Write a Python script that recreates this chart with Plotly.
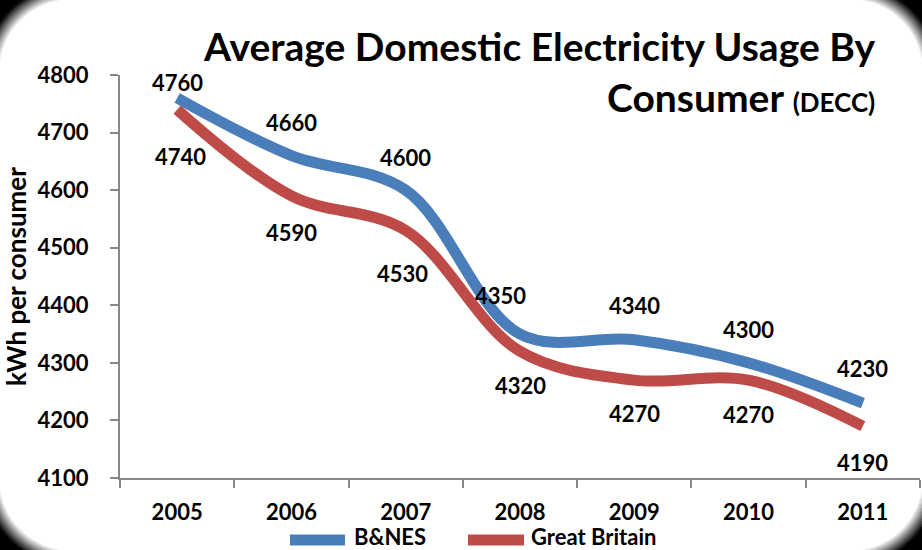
import plotly.graph_objects as go

years = ["2005", "2006", "2007", "2008", "2009", "2010", "2011"]
bnes = [4760, 4660, 4600, 4350, 4340, 4300, 4230]
gb = [4740, 4590, 4530, 4320, 4270, 4270, 4190]
y_ticks = [4100, 4200, 4300, 4400, 4500, 4600, 4700, 4800]
series_names = ["B&NES", "Great Britain"]

# label offsets (pixels): style only
bnes_shift = [(0, 16), (0, 33), (0, 33), (-20, 39), (0, 34), (0, 33), (0, 35)]
gb_shift = [(3, -47), (0, -37), (-3, -43), (0, -34), (0, -33), (0, -34), (0, -36)]

W, H = 922, 550
ML, MR, MT, MB = 120, 2, 75, 72
PW, PH = W - ML - MR, H - MT - MB

BLUE = "#4A7EBB"
RED = "#BE4B48"
FONT = "Lato"

def px2paper(xp, yp):
    return (xp - ML) / PW, (H - MB - yp) / PH

xi = list(range(len(years)))

fig = go.Figure()
fig.add_trace(go.Scatter(x=xi, y=bnes, mode="lines", name=series_names[0],
                         line=dict(color=BLUE, width=11, shape="spline", smoothing=1.0)))
fig.add_trace(go.Scatter(x=xi, y=gb, mode="lines", name=series_names[1],
                         line=dict(color=RED, width=11, shape="spline", smoothing=1.0)))

lab_font = dict(family=FONT, size=22, color="black", weight="bold")
ann = []
for i in xi:
    ann.append(dict(x=i, y=bnes[i], text=str(bnes[i]), showarrow=False,
                    xshift=bnes_shift[i][0], yshift=bnes_shift[i][1], font=lab_font))
    ann.append(dict(x=i, y=gb[i], text=str(gb[i]), showarrow=False,
                    xshift=gb_shift[i][0], yshift=gb_shift[i][1], font=lab_font))

ann.append(dict(xref="paper", yref="paper", x=px2paper(877, 0)[0], y=px2paper(0, 46)[1],
                xanchor="right", yanchor="middle", showarrow=False,
                text="Average Domestic Electricity Usage By",
                font=dict(family=FONT, size=39, color="black", weight="bold")))
ann.append(dict(xref="paper", yref="paper", x=px2paper(877, 0)[0], y=px2paper(0, 97)[1],
                xanchor="right", yanchor="middle", showarrow=False,
                text="Consumer <span style='font-size:26px'>(DECC)</span>",
                font=dict(family=FONT, size=39, color="black", weight="bold")))

# custom legend
leg = [(290, 345, 352, BLUE, series_names[0]), (468, 524, 529, RED, series_names[1])]
shapes = []

def rrect(x0, y0, x1, y1, r):
    k = 0.5523 * r
    def P(x, y):
        a, b = px2paper(x, y)
        return f"{a:.5f},{b:.5f}"
    d = f"M{P(x0 + r, y0)} L{P(x1 - r, y0)} "
    d += f"C{P(x1 - r + k, y0)} {P(x1, y0 + r - k)} {P(x1, y0 + r)} "
    d += f"L{P(x1, y1 - r)} "
    d += f"C{P(x1, y1 - r + k)} {P(x1 - r + k, y1)} {P(x1 - r, y1)} "
    d += f"L{P(x0 + r, y1)} "
    d += f"C{P(x0 + r - k, y1)} {P(x0, y1 - r + k)} {P(x0, y1 - r)} "
    d += f"L{P(x0, y0 + r)} "
    d += f"C{P(x0, y0 + r - k)} {P(x0 + r - k, y0)} {P(x0 + r, y0)} Z"
    return d

steps = 11
c = 72
for s in range(steps):
    t = s / (steps - 1)
    g = int(10 + 245 * t)
    d = -16 + s * 1.5
    r = c - d
    shapes.append(dict(type="path", xref="paper", yref="paper", layer="below",
                       path=rrect(d, d, W - d, H - d, r),
                       fillcolor=f"rgb({g},{g},{g})", line=dict(width=0)))

for x0, x1, tx, col, name in leg:
    a0, yy = px2paper(x0, 540)
    a1, _ = px2paper(x1, 540)
    shapes.append(dict(type="line", xref="paper", yref="paper", x0=a0, x1=a1, y0=yy, y1=yy,
                       line=dict(color=col, width=11)))
    ann.append(dict(xref="paper", yref="paper", x=px2paper(tx, 0)[0], y=px2paper(0, 536)[1],
                    xanchor="left", yanchor="middle", showarrow=False, text=name,
                    font=lab_font))

fig.update_layout(
    width=W, height=H,
    margin=dict(l=ML, r=MR, t=MT, b=MB, autoexpand=False),
    paper_bgcolor="black",
    plot_bgcolor="rgba(0,0,0,0)",
    showlegend=False,
    annotations=ann,
    shapes=shapes,
    xaxis=dict(range=[-0.5, 6.5], tickvals=xi, ticktext=years, ticks="",
               showline=True, linecolor="#888", automargin=False,
               linewidth=2, showgrid=False, zeroline=False, ticklabelstandoff=14,
               tickfont=lab_font,
               minor=dict(tickvals=[i - 0.5 for i in range(len(years) + 1)], ticks="outside",
                          ticklen=8, tickwidth=2, tickcolor="#888", showgrid=False)),
    yaxis=dict(range=[4100, 4800], tickvals=y_ticks, ticks="outside", ticklen=8, tickwidth=2,
               tickcolor="#888", showline=True, linecolor="#888", linewidth=2, automargin=False,
               showgrid=False, zeroline=False, ticklabelstandoff=17,
               tickfont=lab_font,
               title=dict(text="kWh per consumer", standoff=9,
                          font=dict(family=FONT, size=26, color="black", weight="bold"))),
)

fig.write_html("out.html", config={"displayModeBar": False},
               post_script="document.body.style.margin='0';document.body.style.overflow='hidden';")
